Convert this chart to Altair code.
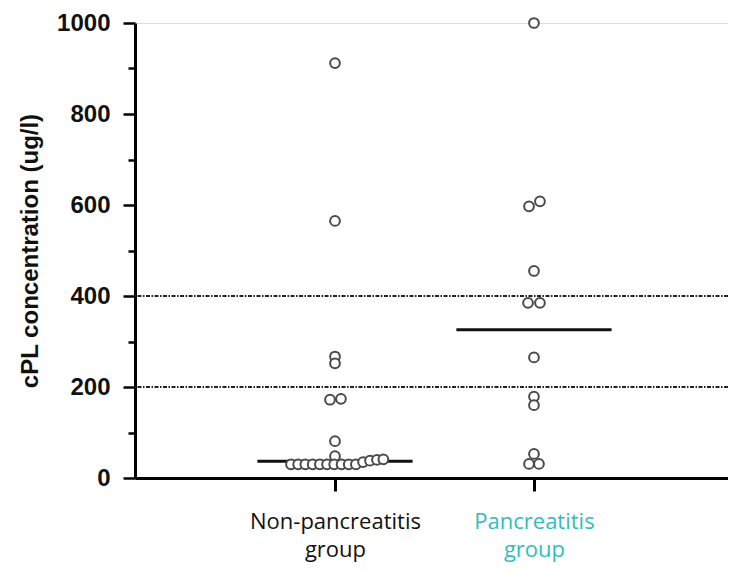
import altair as alt
import pandas as pd

# ---- data ----
groups = ["Non-pancreatitis group", "Pancreatitis group"]
group_pos = [1, 2]
label_lines = [["Non-pancreatitis", "group"], ["Pancreatitis", "group"]]

non_values = [912, 565, 267, 252, 172, 174, 81, 48,
              30, 30, 30, 30, 30, 30, 30, 30, 30, 30,
              35, 38, 40, 41]
non_jitter = [0, 0, 0, 0, -0.025, 0.03, 0, 0,
              -0.221, -0.185, -0.149, -0.112, -0.076, -0.040, -0.004, 0.033, 0.069, 0.105,
              0.141, 0.176, 0.211, 0.243]

panc_values = [1000, 597, 608, 455, 385, 385, 265, 179, 160, 53, 31, 31]
panc_jitter = [0, -0.025, 0.03, 0, -0.03, 0.03, 0, 0, 0, 0, -0.025, 0.025]

medians = [37, 326]
thresholds = [200, 400]
median_half_width = 0.39

# ---- tables ----
pts = pd.DataFrame({
    "group": [groups[0]] * len(non_values) + [groups[1]] * len(panc_values),
    "value": non_values + panc_values,
    "x": [group_pos[0] + j for j in non_jitter] + [group_pos[1] + j for j in panc_jitter],
})
med = pd.DataFrame({
    "group": groups,
    "median": medians,
    "x1": [p - median_half_width for p in group_pos],
    "x2": [p + median_half_width for p in group_pos],
})
thr = pd.DataFrame({"t": thresholds})

xscale = alt.Scale(domain=[-0.005, 2.975], nice=False, zero=False)
yscale = alt.Scale(domain=[0, 1000], nice=False)

label_expr = " : ".join(
    [f"datum.value == {p} ? {repr(l)}" for p, l in zip(group_pos[:-1], label_lines[:-1])]
    + [repr(label_lines[-1])]
)

x_axis = alt.Axis(
    values=group_pos,
    labelExpr=label_expr,
    title=None,
    grid=False,
    domainColor="black",
    domainWidth=3,
    tickColor="black",
    tickWidth=3,
    tickSize=13,
    labelFont="Open Sans",
    labelFontSize=22,
    labelLineHeight=28,
    labelPadding=20,
    labelColor={"condition": {"test": f"datum.value == {group_pos[1]}", "value": "#33bcbc"}, "value": "#111111"},
)

y_axis = alt.Axis(
    values=list(range(0, 1001, 100)),
    format="d",
    labelExpr="datum.value % 200 == 0 ? datum.label : ''",
    tickSize={"condition": {"test": "datum.value % 200 == 0", "value": 12}, "value": 7},
    tickWidth=2.5,
    tickColor="black",
    domainColor="black",
    domainWidth=3,
    grid=False,
    labelFont="Liberation Sans",
    labelFontWeight="bold",
    labelFontSize=24,
    labelColor="#111111",
    labelPadding=13,
    title="cPL concentration (ug/l)",
    titleFont="Liberation Sans",
    titleFontWeight="bold",
    titleFontSize=24,
    titleColor="#111111",
    titlePadding=14,
)

points = alt.Chart(pts).mark_point(
    shape="circle", filled=False, fill="white", fillOpacity=1,
    stroke="#4a4a4a", strokeWidth=2, size=95, opacity=1
).encode(
    x=alt.X("x:Q", scale=xscale, axis=x_axis),
    y=alt.Y("value:Q", scale=yscale, axis=y_axis),
)

median_lines = alt.Chart(med).mark_rule(color="#111111", strokeWidth=3).encode(
    x=alt.X("x1:Q", scale=xscale),
    x2="x2:Q",
    y=alt.Y("median:Q", scale=yscale),
)

threshold_lines = alt.Chart(thr).mark_rule(
    color="#222222", strokeWidth=2, strokeDash=[4, 1.5, 1.5, 1.5]
).encode(
    y=alt.Y("t:Q", scale=yscale),
)

chart = alt.layer(threshold_lines, median_lines, points).properties(
    width=593,
    height=455,
    autosize=alt.AutoSizeParams(type="none"),
    padding={"left": 127, "top": 15, "right": 0, "bottom": 90},
).configure_view(stroke=None).configure(background="white")

chart.save("out.html", embed_options={"renderer": "svg", "actions": False})
